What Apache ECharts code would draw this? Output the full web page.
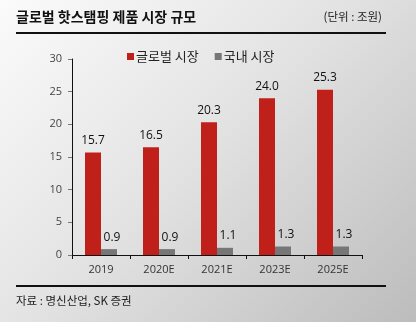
<!DOCTYPE html>
<html><head><meta charset="utf-8">
<script src="https://cdn.jsdelivr.net/npm/echarts@6/dist/echarts.min.js"></script>
<style>html,body{margin:0;padding:0;}#c{width:416px;height:322px;background:linear-gradient(135deg,#fbfbfb 0%,#e4e4e4 45%,#bcbcbc 100%);}</style>
</head><body><div id="c"></div>
<script>
const categories = ['2019','2020E','2021E','2023E','2025E'];
const globalMarket = [15.7, 16.5, 20.3, 24.0, 25.3];
const domesticMarket = [0.9, 0.9, 1.1, 1.3, 1.3];
const yTicks = [0, 5, 10, 15, 20, 25, 30];
const seriesNames = ['글로벌 시장', '국내 시장'];
const titleText = '글로벌 핫스탬핑 제품 시장 규모';
const unitText = '(단위 : 조원)';
const sourceText = '자료 : 명신산업, SK 증권';

const chart = echarts.init(document.getElementById('c'), null, {renderer:'canvas'});
const kr = '"Noto Sans CJK KR", sans-serif';
const num = '"Open Sans", "Noto Sans", sans-serif';
chart.setOption({
  animation:false,
  textStyle:{fontFamily:kr},
  graphic:[
    {type:'text', left:16, top:10, style:{text:titleText, font:'bold 14px '+kr, fill:'#111'}},
    {type:'text', right:34, top:11, style:{text:unitText, font:'11.5px '+kr, fill:'#222'}},
    {type:'rect', shape:{x:16, y:32, width:370, height:2}, style:{fill:'#111'}},
    {type:'rect', shape:{x:16, y:285, width:370, height:2}, style:{fill:'#111'}},
    {type:'text', left:16, top:295, style:{text:sourceText, font:'11.5px '+kr, fill:'#222'}}
  ],
  legend:{
    data:seriesNames, left:122, top:45, itemWidth:7, itemHeight:7, itemGap:16,
    icon:'rect', textStyle:{fontSize:13, color:'#222', fontFamily:kr, padding:[0,0,0,-3]}
  },
  grid:{left:72, right:54, top:59, bottom:67},
  xAxis:{
    type:'category', data:categories,
    axisLine:{lineStyle:{color:'#111', width:1}},
    axisTick:{show:true, length:4, lineStyle:{color:'#111'}},
    axisLabel:{color:'#333', fontSize:11, fontFamily:num, margin:9}
  },
  yAxis:{
    type:'value', min:0, max:30, interval:5,
    axisLine:{show:true, lineStyle:{color:'#111'}},
    axisTick:{show:true, length:4, lineStyle:{color:'#777'}},
    axisLabel:{color:'#444', fontSize:11, fontFamily:num, margin:10,
      formatter:v=>yTicks.includes(v)?String(v):''},
    splitLine:{show:false}
  },
  series:[
    {name:seriesNames[0], type:'bar', data:globalMarket, barWidth:16, barGap:'0%',
     itemStyle:{color:'#c0201a'},
     label:{show:true, position:'top', distance:6, color:'#111', fontSize:12, fontFamily:num,
       formatter:p=>p.value.toFixed(1)}},
    {name:seriesNames[1], type:'bar', data:domesticMarket, barWidth:16,
     itemStyle:{color:'#767676'},
     label:{show:true, position:'top', distance:6, color:'#111', fontSize:12, fontFamily:num, offset:[3,0],
       formatter:p=>p.value.toFixed(1)}}
  ]
});
</script></body></html>
